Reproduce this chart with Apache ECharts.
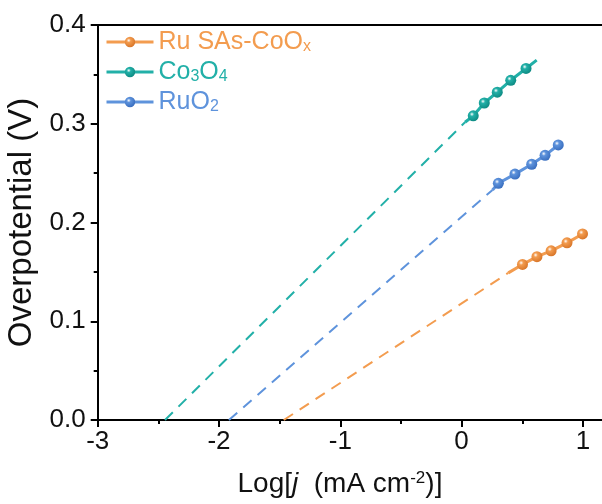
<!DOCTYPE html>
<html>
<head>
<meta charset="utf-8">
<script src="https://cdn.jsdelivr.net/npm/echarts@6/dist/echarts.min.js"></script>
<style>html,body{margin:0;padding:0;background:#fff;overflow:hidden;}#c{width:602px;height:504px;}</style>
</head>
<body>
<div id="c"></div>
<script>
// ---- data ----
const seriesNames = ['Ru SAs-CoOx', 'Co3O4', 'RuO2'];
const ruPts   = [[0.502,0.1575],[0.621,0.1654],[0.738,0.1713],[0.869,0.1794],[0.997,0.1884]];
const coPts   = [[0.096,0.308],[0.187,0.321],[0.294,0.332],[0.405,0.344],[0.531,0.356]];
const ruo2Pts = [[0.303,0.2397],[0.440,0.249],[0.578,0.259],[0.688,0.268],[0.797,0.2785]];
// Tafel fit lines: solid segment start / end, dashed extrapolation down to y = 0
const ruFit   = [[0.385,0.149],[0.997,0.1884]];
const coFit   = [[0.028,0.3015],[0.619,0.3645]];
const ruo2Fit = [[0.255,0.233],[0.797,0.2785]];
const ruDash   = [[-1.466,0],[0.385,0.149]];
const coDash   = [[-2.445,0],[0.028,0.3015]];
const ruo2Dash = [[-1.918,0],[0.255,0.233]];
const xTicks = [-3,-2,-1,0,1];
const yTicks = [0.0,0.1,0.2,0.3,0.4];
const X_MIN = -3, X_MAX = 2, Y_MIN = 0, Y_MAX = 0.4;

const colors = ['#F39C4F', '#22B0A8', '#5E93DC'];
const dark   = ['#D9772A', '#0E8C84', '#3A6FC0'];
const FONT = 'Liberation Sans, Arial, sans-serif';

function ball(i){
  return {type:'radial', x:0.38, y:0.35, r:0.65, colorStops:[
    {offset:0, color:'#ffffff'},
    {offset:0.3, color:colors[i]},
    {offset:1, color:dark[i]}
  ]};
}
function fitSeries(i, fit, pts){
  const data = [{value:fit[0], symbol:'none'}].concat(pts.map(p=>({value:p}))).concat([{value:fit[1], symbol:'none'}]);
  data.sort((a,b)=>a.value[0]-b.value[0]);
  return {
    name: seriesNames[i], type:'line', data: data,
    symbol:'circle', symbolSize:11, z:3,
    lineStyle:{color:colors[i], width:3},
    itemStyle:{color:ball(i), borderWidth:0},
    emphasis:{disabled:true}, animation:false
  };
}
function dashSeries(i, d){
  return {
    name: seriesNames[i]+'-ext', type:'line', data:d, symbol:'none', z:2,
    lineStyle:{color:colors[i], width:2, type:[11,8]},
    emphasis:{disabled:true}, animation:false
  };
}

const chart = echarts.init(document.getElementById('c'), null, {renderer:'canvas'});
const LF = 25, SF = 16;
const subPad = [9,0,0,0];
const legendRich = {
  o:{color:colors[0], fontSize:LF, fontFamily:FONT},
  os:{color:colors[0], fontSize:SF, fontFamily:FONT, verticalAlign:'bottom', padding:subPad},
  t:{color:colors[1], fontSize:LF, fontFamily:FONT},
  ts:{color:colors[1], fontSize:SF, fontFamily:FONT, verticalAlign:'bottom', padding:subPad},
  b:{color:colors[2], fontSize:LF, fontFamily:FONT},
  bs:{color:colors[2], fontSize:SF, fontFamily:FONT, verticalAlign:'bottom', padding:subPad}
};
const legendFmt = {
  'Ru SAs-CoOx': '{o|Ru SAs-CoO}{os|x}',
  'Co3O4': '{t|Co}{ts|3}{t|O}{ts|4}',
  'RuO2': '{b|RuO}{bs|2}'
};

chart.setOption({
  animation:false,
  backgroundColor:'#fff',
  grid:{left:97.7, top:25, bottom:84, right:-102.2, containLabel:false, outerBoundsMode:'none'},
  graphic:[{type:'rect', x:588, y:422, z:1000, zlevel:5, silent:true,
    shape:{x:0, y:0, width:14, height:14}, style:{fill:'#ffffff'}}],
  legend:{
    orient:'vertical', left:100, top:24,
    itemWidth:47, itemHeight:13, itemGap:4,
    data:seriesNames,
    formatter:function(n){return legendFmt[n];},
    lineStyle:{width:3},
    textStyle:{fontSize:LF, lineHeight:26, rich:legendRich},
    selectedMode:false
  },
  xAxis:[{
    type:'value', min:X_MIN, max:X_MAX, interval:1,
    name:'{a|Log[}{i|j}{a|  (mA cm}{s|-2}{a|)]}',
    nameLocation:'middle', nameGap:50,
    nameTextStyle:{padding:[0,122,0,0], rich:{
      a:{fontSize:28, color:'#111', fontFamily:FONT},
      i:{fontSize:28, color:'#111', fontFamily:FONT, fontStyle:'italic'},
      s:{fontSize:17, color:'#111', fontFamily:FONT, verticalAlign:'top', padding:[0,0,12,0]}
    }},
    axisLine:{show:true, onZero:false, symbol:'none', lineStyle:{color:'#000', width:2}},
    axisTick:{show:true, inside:false, length:7, lineStyle:{color:'#000', width:2}},
    minorTick:{show:true, splitNumber:2, length:4, lineStyle:{color:'#000', width:2}},
    splitLine:{show:false},
    axisLabel:{margin:9, fontSize:26, color:'#111', fontFamily:FONT,
      formatter:function(v){return xTicks.indexOf(v)>=0 ? String(v) : '';}}
  },{
    type:'value', position:'top', min:X_MIN, max:X_MAX,
    axisLine:{show:true, onZero:false, lineStyle:{color:'#000', width:2}},
    axisTick:{show:false}, axisLabel:{show:false}, splitLine:{show:false}
  }],
  yAxis:{
    type:'value', min:Y_MIN, max:Y_MAX, interval:0.1,
    name:'Overpotential (V)', nameLocation:'middle', nameGap:50, nameRotate:90,
    nameTextStyle:{fontSize:33, color:'#111', fontFamily:FONT},
    axisLine:{show:true, onZero:false, lineStyle:{color:'#000', width:2}},
    axisTick:{show:true, inside:false, length:7, lineStyle:{color:'#000', width:2}},
    minorTick:{show:true, splitNumber:2, length:4, lineStyle:{color:'#000', width:2}},
    splitLine:{show:false},
    axisLabel:{margin:12, fontSize:26, color:'#111', fontFamily:FONT,
      formatter:function(v){
        const t = yTicks.find(k=>Math.abs(k-v)<1e-9);
        return t===undefined ? '' : t.toFixed(1);
      }}
  },
  series:[
    dashSeries(0, ruDash), dashSeries(1, coDash), dashSeries(2, ruo2Dash),
    fitSeries(0, ruFit, ruPts), fitSeries(1, coFit, coPts), fitSeries(2, ruo2Fit, ruo2Pts)
  ]
});
</script>
</body>
</html>
